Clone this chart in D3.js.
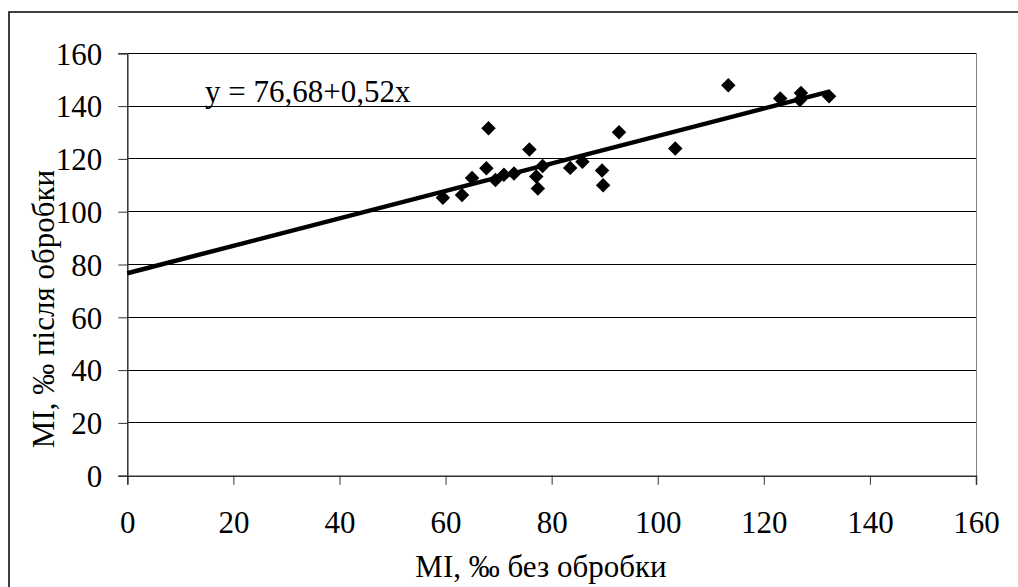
<!DOCTYPE html>
<html><head><meta charset="utf-8">
<script src="https://cdn.jsdelivr.net/npm/d3@7"></script>
<style>body{margin:0;background:#fff}svg{display:block}text{font-family:"Liberation Serif","Times New Roman",serif;fill:#000}</style>
</head><body>
<svg id="c" width="1018" height="587"></svg>
<script>
const xValues = [59.5,63.1,65.0,67.7,68.1,69.4,71.0,72.9,75.8,77.1,77.4,78.3,83.5,85.8,89.5,89.7,92.7,103.3,113.3,123.1,126.8,127.0,132.3];
const yValues = [105.3,106.3,112.8,116.5,131.6,112.0,114.0,114.5,123.6,113.3,108.8,117.3,116.6,118.9,115.6,110.0,130.1,123.9,147.9,142.9,142.3,145.0,143.7];
const xTicks = [0,20,40,60,80,100,120,140,160];
const yTicks = [0,20,40,60,80,100,120,140,160];
const intercept = 76.68, slope = 0.52;
const equationLabel = "y = 76,68+0,52x";
const xTitle = "MI, ‰ без обробки";
const yTitle = "MI, ‰ після обробки";

const svg = d3.select("#c");
svg.append("rect").attr("x",9).attr("y",12).attr("width",1030).attr("height",600)
  .attr("fill","none").attr("stroke","#000").attr("stroke-width",1.5);

const L=127.3,R=976,T=53.3,B=475.7;
const x = d3.scaleLinear().domain([0,160]).range([L,R]);
const y = d3.scaleLinear().domain([0,160]).range([B,T]);

svg.append("g").selectAll("line").data(yTicks.filter(d=>d>0)).join("line")
  .attr("x1",L).attr("x2",R).attr("y1",d=>y(d)).attr("y2",d=>y(d))
  .attr("stroke","#000").attr("stroke-width",1).attr("shape-rendering","crispEdges");
svg.append("line").attr("x1",R).attr("x2",R).attr("y1",T).attr("y2",B)
  .attr("stroke","#808080").attr("stroke-width",1).attr("shape-rendering","crispEdges");

const FS = "31px";
const xAxis = svg.append("g").attr("transform",`translate(0,${B})`)
  .call(d3.axisBottom(x).tickValues(xTicks).tickSize(9).tickPadding(26).tickFormat(d3.format("d")));
const yAxis = svg.append("g").attr("transform",`translate(${L},0)`)
  .call(d3.axisLeft(y).tickValues(yTicks).tickSize(9).tickPadding(16).tickFormat(d3.format("d")));
[xAxis,yAxis].forEach(a=>{
  a.select(".domain").attr("stroke","#333").attr("stroke-width",1.5);
  a.selectAll(".tick line").attr("stroke","#333");
  a.selectAll("text").style("font-size",FS).style("font-family",'"Liberation Serif",serif').attr("fill","#000");
});
yAxis.selectAll("text").attr("dy","0.35em");

const xmax = d3.max(xValues);
svg.append("line").attr("x1",x(0)).attr("y1",y(intercept))
  .attr("x2",x(xmax)).attr("y2",y(intercept+slope*xmax))
  .attr("stroke","#000").attr("stroke-width",4.5);

const sym = d3.symbol(d3.symbolSquare, 105);
svg.append("g").selectAll("path").data(xValues.map((v,i)=>[v,yValues[i]])).join("path")
  .attr("d",sym).attr("fill","#000")
  .attr("transform",d=>`translate(${x(d[0])},${y(d[1])}) rotate(45)`);

svg.append("text").attr("x",205).attr("y",102).style("font-size",FS).text(equationLabel);
svg.append("text").attr("x",541).attr("y",577).attr("text-anchor","middle").style("font-size",FS).text(xTitle);
svg.append("text").attr("transform","translate(54,309) rotate(-90)").attr("text-anchor","middle").style("font-size",FS).text(yTitle);
</script>
</body></html>
